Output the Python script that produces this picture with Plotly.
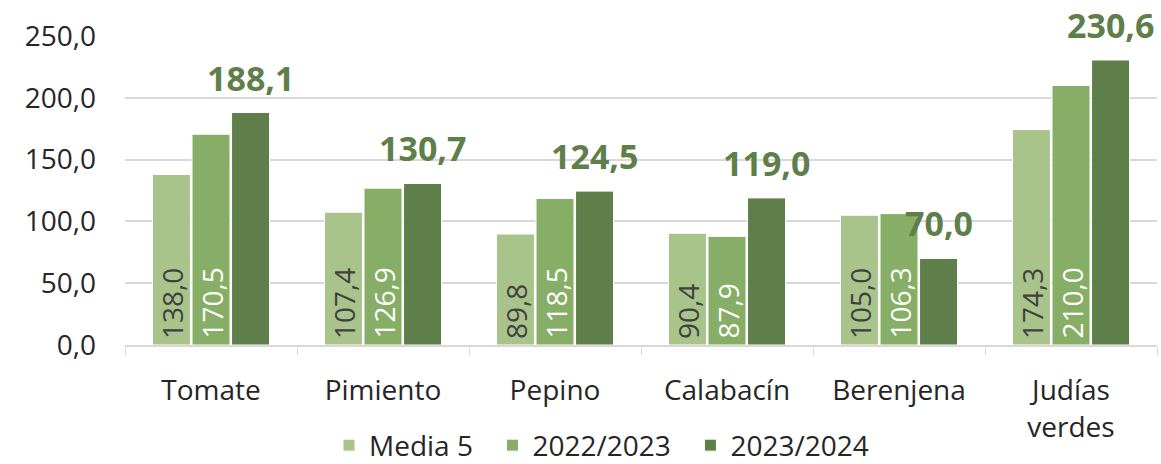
import plotly.graph_objects as go

# ---------------------------------------------------------------------------
# Data
# ---------------------------------------------------------------------------

categories = ["Tomate", "Pimiento", "Pepino", "Calabacín", "Berenjena", "Judías<br>verdes"]
media_5 = [138.0, 107.4, 89.8, 90.4, 105.0, 174.3]
campaign_2223 = [170.5, 126.9, 118.5, 87.9, 106.3, 210.0]
campaign_2324 = [188.1, 130.7, 124.5, 119.0, 70.0, 230.6]
series_names = ["Media 5", "2022/2023", "2023/2024"]
y_ticks = [0, 50, 100, 150, 200, 250]

# ---------------------------------------------------------------------------
# Style
# ---------------------------------------------------------------------------

COLORS = ["#A9C48B", "#86AE66", "#5E7E4A"]
FONT = "'Open Sans', 'Noto Sans', sans-serif"
WIDTH, HEIGHT = 1161, 464
MARGIN = dict(l=125, r=4, t=36, b=119)
BARGAP = 0.31
PAD = "\u00a0\u00a0"  # extra room between legend entries


def fmt(v):
    return f"{v:.1f}".replace(".", ",")


# pixel offset of each bar of a group from the category centre
plot_w = WIDTH - MARGIN["l"] - MARGIN["r"]
slot = plot_w / len(categories) * (1 - BARGAP) / 3
offsets = [-slot, 0, slot]

fig = go.Figure()
for name, values, color in zip(series_names,
                               [media_5, campaign_2223, campaign_2324], COLORS):
    fig.add_trace(go.Bar(
        name=name + PAD, x=categories, y=values,
        marker_color=color, marker_line=dict(color="white", width=1),
    ))

# vertical labels inside the first two series (plotly would shrink bar text)
for values, color, dx in [(media_5, "#404040", offsets[0]), (campaign_2223, "white", offsets[1])]:
    for cat, v in zip(categories, values):
        fig.add_annotation(
            x=cat, y=0, text=fmt(v), showarrow=False, textangle=-90,
            xanchor="center", yanchor="bottom", xshift=dx, yshift=4,
            font=dict(size=28, color=color, family=FONT),
        )

# bold labels above the last series
for cat, v in zip(categories, campaign_2324):
    fig.add_annotation(
        x=cat, y=v, text=fmt(v), showarrow=False,
        xanchor="center", yanchor="bottom", xshift=offsets[2], yshift=10,
        font=dict(size=34, color="#5E7E4A", family=FONT, weight="bold"),
    )

fig.update_layout(
    width=WIDTH, height=HEIGHT,
    barmode="group", bargap=BARGAP, bargroupgap=0.04,
    paper_bgcolor="white", plot_bgcolor="white",
    font=dict(family=FONT, size=28, color="#262626"),
    margin=MARGIN,
    showlegend=True,
    legend=dict(orientation="h", x=0.469, xanchor="center",
                yref="container", y=0.04, yanchor="middle",
                font=dict(size=28), itemwidth=30, traceorder="normal"),
)

fig.update_yaxes(
    range=[0, 250], tickvals=y_ticks, ticktext=[fmt(v) for v in y_ticks],
    showgrid=True, gridcolor="#D9D9D9", gridwidth=1.5,
    zeroline=False, showline=False, ticks="", ticklabelstandoff=28,
    tickfont=dict(size=28, color="#262626"), automargin=False,
)
fig.update_xaxes(
    showline=True, linecolor="#D9D9D9", linewidth=1.5,
    ticks="outside", tickson="boundaries", ticklen=8, tickcolor="#D9D9D9",
    ticklabelstandoff=20,
    tickfont=dict(size=28, color="#262626"), automargin=False,
)

fig.write_html("out.html", config={"displayModeBar": False},
               post_script="document.body.style.margin='0';")
